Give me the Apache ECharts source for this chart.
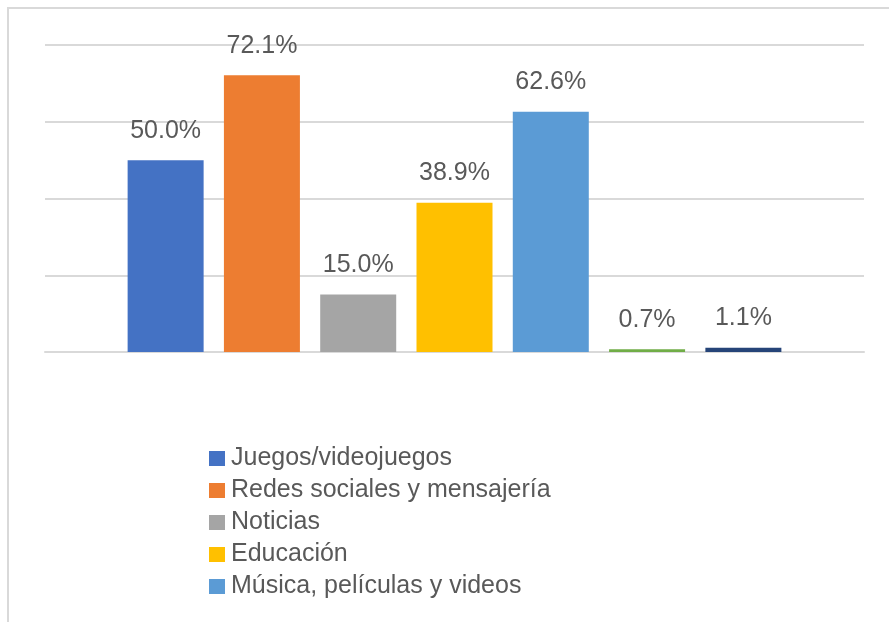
<!DOCTYPE html>
<html>
<head>
<meta charset="utf-8">
<script src="https://cdn.jsdelivr.net/npm/echarts@6/dist/echarts.min.js"></script>
<style>
  html, body { margin: 0; padding: 0; background: #fff; }
  #chart { width: 889px; height: 622px; }
</style>
</head>
<body>
<div id="chart"></div>
<script>
// series names (only the first five appear in the legend)
const seriesNames = [
  'Juegos/videojuegos',
  'Redes sociales y mensajería',
  'Noticias',
  'Educación',
  'Música, películas y videos',
  'Otros',
  'Otros usos'
]
const legendNames = seriesNames.slice(0, 5)
const values = [50.0, 72.1, 15.0, 38.9, 62.6, 0.7, 1.1]
const colors = ['#4472C4', '#ED7D31', '#A5A5A5', '#FFC000', '#5B9BD5', '#70AD47', '#264478']

const chart = echarts.init(document.getElementById('chart'))

const series = seriesNames.map((name, i) => ({
  name,
  type: 'bar',
  data: [values[i]],
  barWidth: 76,
  barGap: '26.7%',
  itemStyle: { color: colors[i] },
  label: {
    show: true,
    position: 'top',
    distance: 17,
    formatter: p => p.value.toFixed(1) + '%',
    color: '#595959',
    fontSize: 25,
    fontFamily: 'Liberation Sans'
  }
}))

chart.setOption({
  backgroundColor: '#fff',
  animation: false,
  graphic: [{
    type: 'rect',
    shape: { x: 8, y: 8, width: 950, height: 700 },
    style: { fill: 'none', stroke: '#d9d9d9', lineWidth: 2 }
  }],
  grid: { left: 45, right: 25, top: 45, bottom: 270 },
  legend: {
    data: legendNames,
    orient: 'vertical',
    left: 209,
    top: 446,
    padding: 0,
    itemWidth: 16,
    itemHeight: 15,
    itemGap: 7,
    icon: 'rect',
    textStyle: { color: '#595959', fontSize: 25, lineHeight: 25, fontFamily: 'Liberation Sans', padding: [0, 0, 0, 1] }
  },
  xAxis: {
    type: 'category',
    data: [''],
    axisLine: { lineStyle: { color: '#d9d9d9', width: 2 } },
    axisTick: { show: false },
    axisLabel: { show: false }
  },
  yAxis: {
    type: 'value',
    min: 0,
    max: 80,
    interval: 20,
    axisLabel: { show: false },
    axisLine: { show: false },
    axisTick: { show: false },
    splitLine: { lineStyle: { color: '#d9d9d9', width: 2 } }
  },
  series
})
</script>
</body>
</html>
